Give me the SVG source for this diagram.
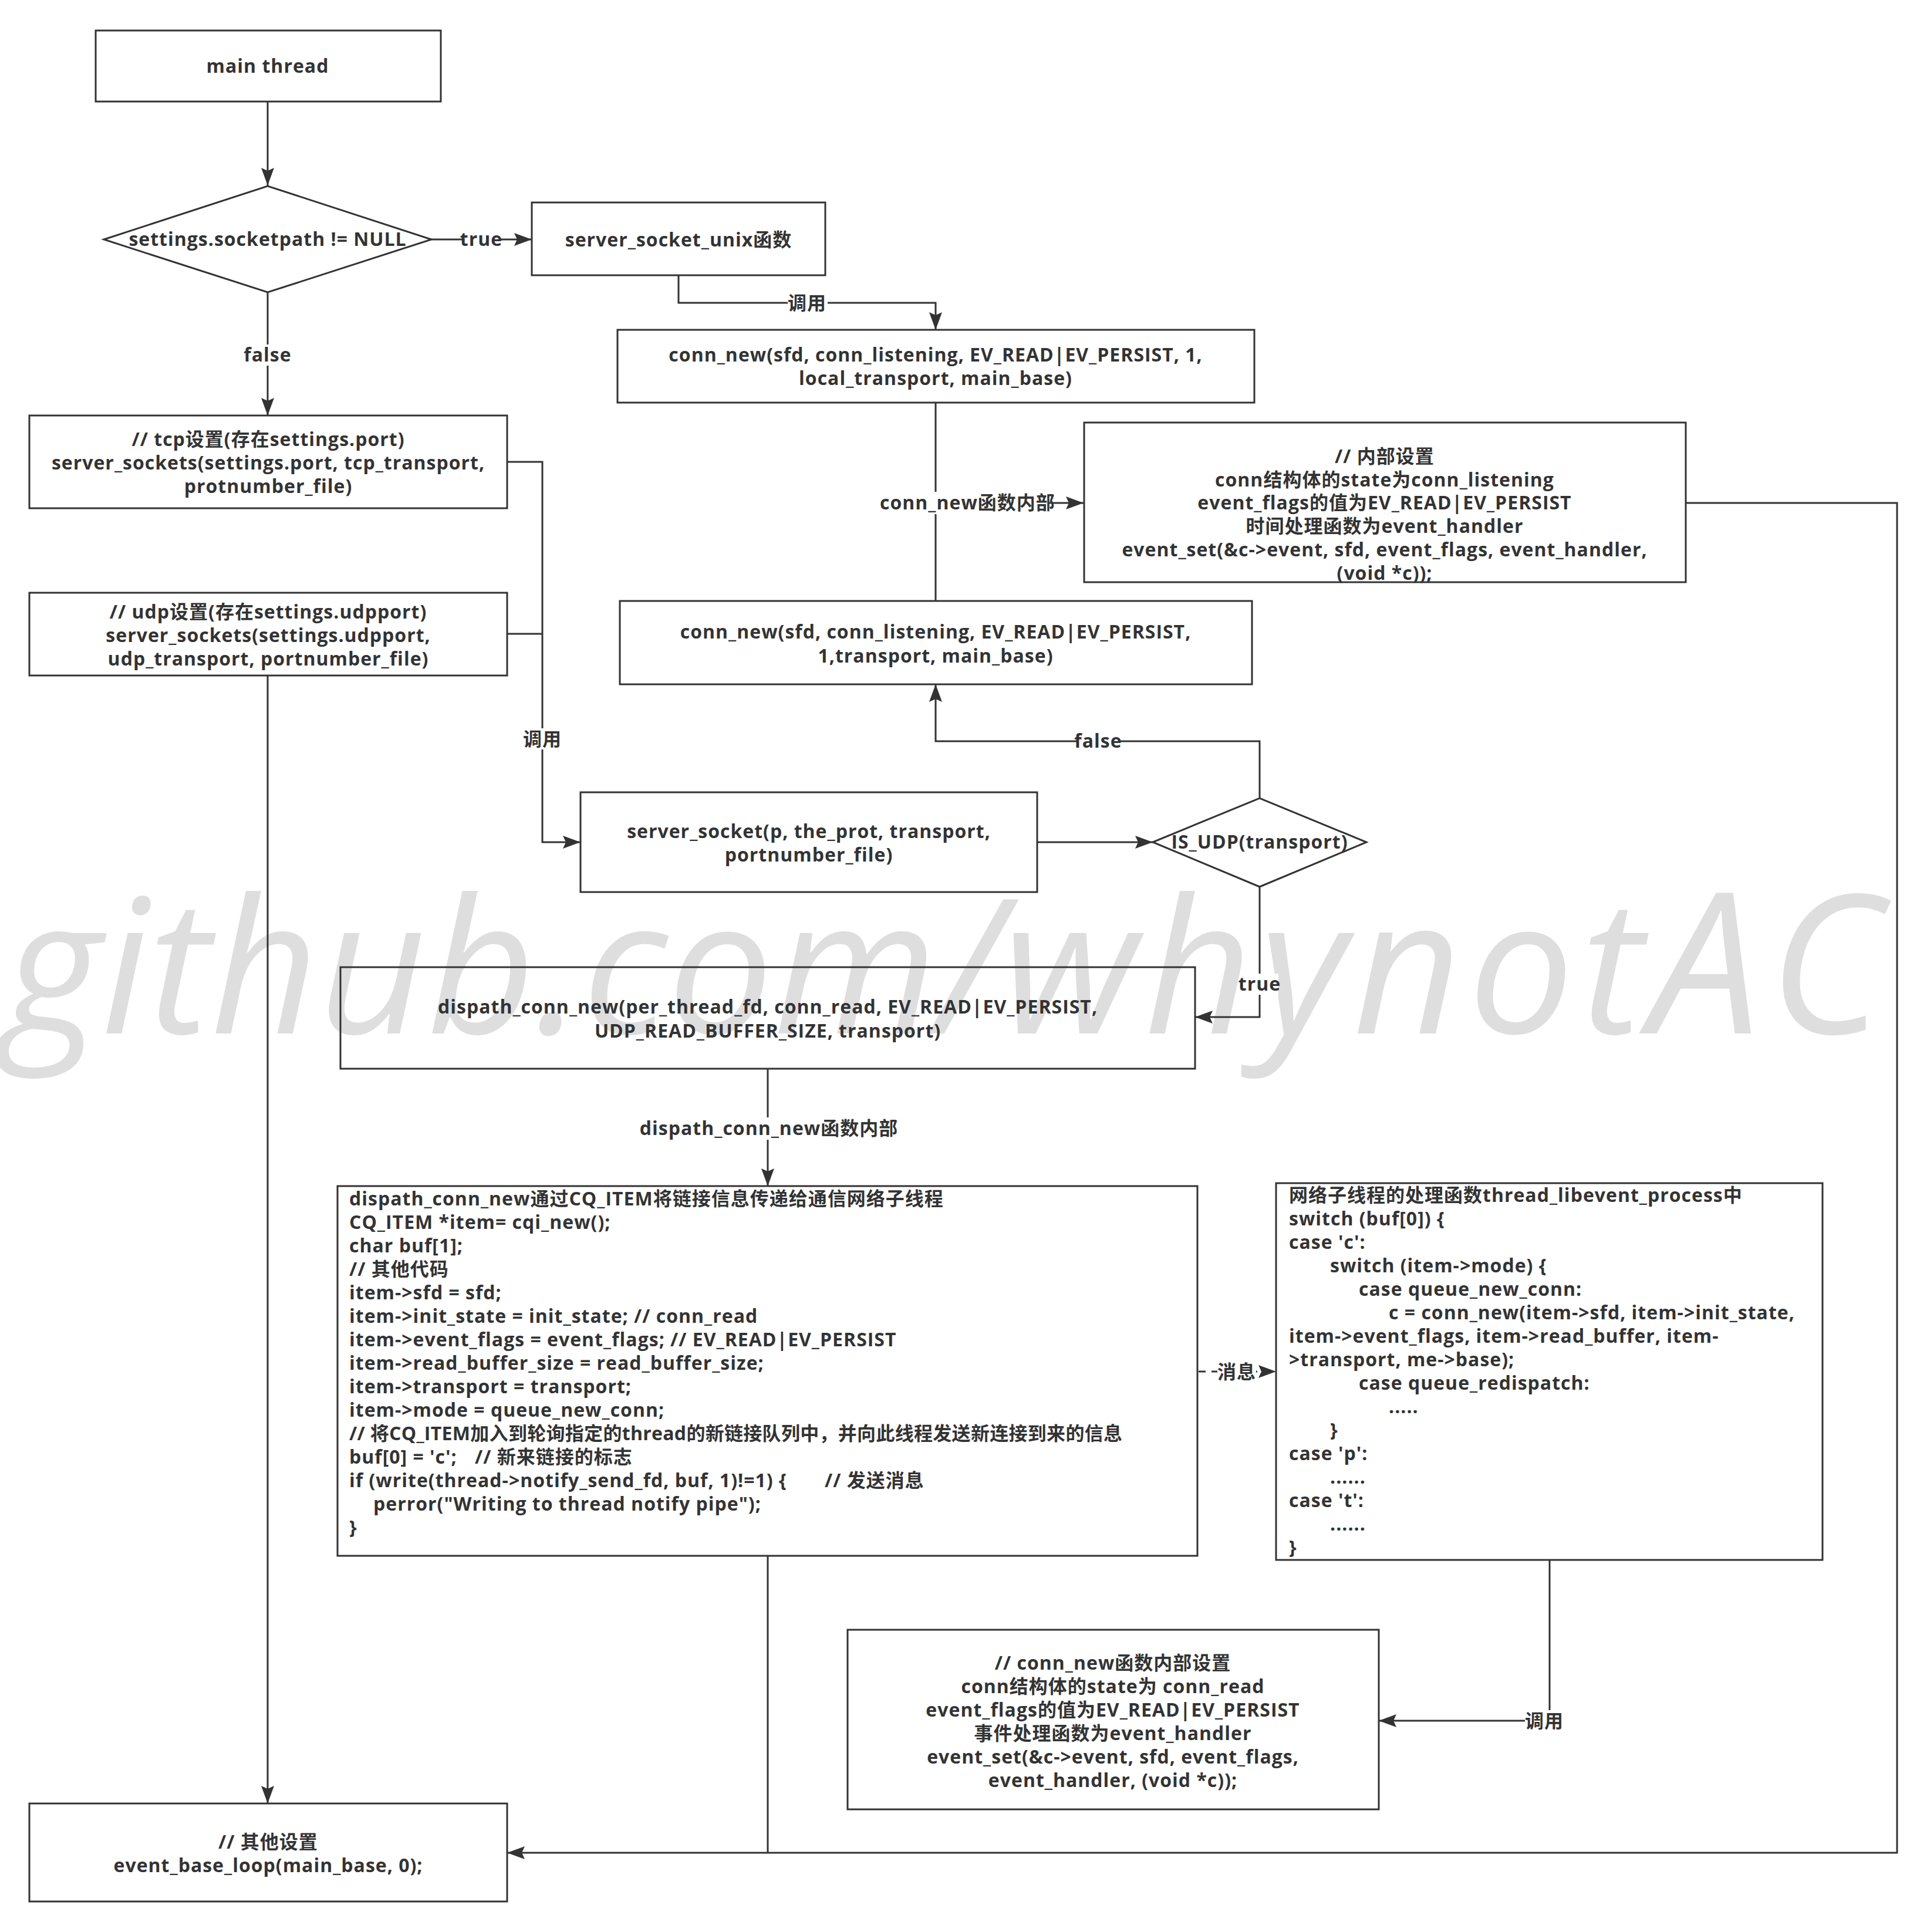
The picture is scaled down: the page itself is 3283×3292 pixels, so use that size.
<svg xmlns="http://www.w3.org/2000/svg" width="3283" height="3292" viewBox="0 0 3283 3292">
<defs>
<style>
.b{fill:none;stroke:#333;stroke-width:3}
.c{fill:none;stroke:#333;stroke-width:3}
.d{stroke-dasharray:12 10}
.lb{fill:#fff;stroke:none}
text{font-family:"Open Sans","Noto Sans CJK SC",sans-serif;font-weight:700;font-size:32px;fill:#333;letter-spacing:1px}
.m{text-anchor:middle}
.wm{font-family:"Open Sans","Liberation Sans",sans-serif;font-style:italic;font-weight:400;font-size:320px;fill:#dedede;letter-spacing:0}
.ws{letter-spacing:12px}
</style>
<marker id="a" markerUnits="userSpaceOnUse" markerWidth="32" markerHeight="24" refX="30" refY="12" orient="auto">
<path d="M0,1 L30,12 L0,23 L5,12 Z" fill="#333"/>
</marker>
</defs>
<rect width="3283" height="3292" fill="#fff"/>
<text class="wm" x="6" y="1761">github.com/<tspan class="ws">whynot</tspan><tspan font-size="336">A</tspan><tspan dx="14" font-size="330">C</tspan></text>

<g id="connectors">
<path class="c" d="M456,174 V316" marker-end="url(#a)"/>
<path class="c" d="M735,408 H906" marker-end="url(#a)"/>
<path class="c" d="M456,498 V708" marker-end="url(#a)"/>
<path class="c" d="M1156,470 V516 H1594 V562" marker-end="url(#a)"/>
<path class="c" d="M1594,686 V1024"/>
<path class="c" d="M1594,857 H1846" marker-end="url(#a)"/>
<path class="c" d="M864,787 H924 V1435 H989" marker-end="url(#a)"/>
<path class="c" d="M864,1080 H924"/>
<path class="c" d="M1767,1435 H1964" marker-end="url(#a)"/>
<path class="c" d="M2146,1360 V1263 H1594 V1166" marker-end="url(#a)"/>
<path class="c" d="M2146,1511 V1733 H2036" marker-end="url(#a)"/>
<path class="c" d="M1308,1821 V2021" marker-end="url(#a)"/>
<path class="c d" d="M2042,2337 H2174" marker-end="url(#a)"/>
<path class="c" d="M2640,2658 V2932 H2349" marker-end="url(#a)"/>
<path class="c" d="M456,1151 V3073" marker-end="url(#a)"/>
<path class="c" d="M2872,857 H3232 V3157 H864" marker-end="url(#a)"/>
<path class="c" d="M1308,2651 V3157"/>
<rect class="lb" x="790" y="390" width="60" height="36"/>
<text class="m" x="820" y="419">true</text>
<rect class="lb" x="420" y="587" width="74" height="36"/>
<text class="m" x="456" y="616">false</text>
<rect class="lb" x="1342" y="498" width="68" height="36"/>
<text class="m" x="1375" y="528">调用</text>
<rect class="lb" x="1496" y="838" width="290" height="38"/>
<text x="1499" y="868">conn_new函数内部</text>
<rect class="lb" x="1835" y="1245" width="74" height="36"/>
<text class="m" x="1871" y="1274">false</text>
<rect class="lb" x="890" y="1241" width="68" height="36"/>
<text class="m" x="924" y="1271">调用</text>
<rect class="lb" x="2114" y="1659" width="64" height="36"/>
<text class="m" x="2146" y="1688">true</text>
<rect class="lb" x="1094" y="1904" width="430" height="38"/>
<text class="m" x="1310" y="1934">dispath_conn_new函数内部</text>
<rect class="lb" x="2074" y="2319" width="66" height="36"/>
<text class="m" x="2107" y="2349">消息</text>
<rect class="lb" x="2598" y="2914" width="66" height="36"/>
<text class="m" x="2631" y="2944">调用</text>
</g>

<g id="main-thread">
<rect class="b" x="163" y="52" width="588" height="121"/>
<text class="m" x="456" y="124">main thread</text>
</g>

<g id="socketpath-decision">
<path class="b" d="M177,408 L456,317 L735,408 L456,498 Z"/>
<text class="m" x="456" y="419">settings.socketpath != NULL</text>
</g>

<g id="server-socket-unix">
<rect class="b" x="906" y="345" width="500" height="124"/>
<text class="m" x="1156" y="420">server_socket_unix函数</text>
</g>

<g id="conn-new-unix">
<rect class="b" x="1052" y="562" width="1085" height="124"/>
<text class="m" x="1594" y="616">conn_new(sfd, conn_listening, EV_READ|EV_PERSIST, 1,</text>
<text class="m" x="1594" y="656">local_transport, main_base)</text>
</g>

<g id="conn-new-internal-listening">
<rect class="b" x="1847" y="720" width="1025" height="272"/>
<text class="m" x="2359" y="789">// 内部设置</text>
<text class="m" x="2359" y="829">conn结构体的state为conn_listening</text>
<text class="m" x="2359" y="868">event_flags的值为EV_READ|EV_PERSIST</text>
<text class="m" x="2359" y="908">时间处理函数为event_handler</text>
<text class="m" x="2359" y="948">event_set(&amp;c-&gt;event, sfd, event_flags, event_handler,</text>
<text class="m" x="2359" y="988">(void *c));</text>
</g>

<g id="tcp-setup">
<rect class="b" x="50" y="708" width="814" height="158"/>
<text class="m" x="457" y="760">// tcp设置(存在settings.port)</text>
<text class="m" x="457" y="800">server_sockets(settings.port, tcp_transport,</text>
<text class="m" x="457" y="840">protnumber_file)</text>
</g>

<g id="udp-setup">
<rect class="b" x="50" y="1010" width="814" height="141"/>
<text class="m" x="457" y="1054">// udp设置(存在settings.udpport)</text>
<text class="m" x="457" y="1094">server_sockets(settings.udpport,</text>
<text class="m" x="457" y="1134">udp_transport, portnumber_file)</text>
</g>

<g id="conn-new-tcp">
<rect class="b" x="1056" y="1024" width="1077" height="142"/>
<text class="m" x="1594" y="1088">conn_new(sfd, conn_listening, EV_READ|EV_PERSIST,</text>
<text class="m" x="1594" y="1129">1,transport, main_base)</text>
</g>

<g id="server-socket">
<rect class="b" x="989" y="1350" width="778" height="170"/>
<text class="m" x="1378" y="1428">server_socket(p, the_prot, transport,</text>
<text class="m" x="1378" y="1468">portnumber_file)</text>
</g>

<g id="is-udp-decision">
<path class="b" d="M1964,1435 L2146,1360 L2328,1435 L2146,1511 Z"/>
<text class="m" x="2146" y="1446">IS_UDP(transport)</text>
</g>

<g id="dispatch-conn-new">
<rect class="b" x="580" y="1648" width="1456" height="173"/>
<text class="m" x="1308" y="1727">dispath_conn_new(per_thread_fd, conn_read, EV_READ|EV_PERSIST,</text>
<text class="m" x="1308" y="1768">UDP_READ_BUFFER_SIZE, transport)</text>
</g>

<g id="dispatch-code">
<rect class="b" x="575" y="2021" width="1465" height="630"/>
<text x="595" y="2054">dispath_conn_new通过CQ_ITEM将链接信息传递给通信网络子线程</text>
<text x="595" y="2094">CQ_ITEM *item= cqi_new();</text>
<text x="595" y="2134">char buf[1];</text>
<text x="595" y="2174">// 其他代码</text>
<text x="595" y="2214">item-&gt;sfd = sfd;</text>
<text x="595" y="2254">item-&gt;init_state = init_state; // conn_read</text>
<text x="595" y="2294">item-&gt;event_flags = event_flags; // EV_READ|EV_PERSIST</text>
<text x="595" y="2334">item-&gt;read_buffer_size = read_buffer_size;</text>
<text x="595" y="2374">item-&gt;transport = transport;</text>
<text x="595" y="2414">item-&gt;mode = queue_new_conn;</text>
<text x="595" y="2454" style="letter-spacing:0.3px">// 将CQ_ITEM加入到轮询指定的thread的新链接队列中，并向此线程发送新连接到来的信息</text>
<text x="595" y="2494">buf[0] = 'c'; <tspan x="809">// 新来链接的标志</tspan></text>
<text x="595" y="2534">if (write(thread-&gt;notify_send_fd, buf, 1)!=1) { <tspan x="1405">// 发送消息</tspan></text>
<text x="636" y="2574">perror("Writing to thread notify pipe");</text>
<text x="595" y="2614">}</text>
</g>

<g id="thread-libevent-process">
<rect class="b" x="2174" y="2016" width="931" height="642"/>
<text x="2196" y="2048">网络子线程的处理函数thread_libevent_process中</text>
<text x="2196" y="2088">switch (buf[0]) {</text>
<text x="2196" y="2128">case 'c':</text>
<text x="2266" y="2168">switch (item-&gt;mode) {</text>
<text x="2315" y="2208">case queue_new_conn:</text>
<text x="2366" y="2248">c = conn_new(item-&gt;sfd, item-&gt;init_state,</text>
<text x="2196" y="2288">item-&gt;event_flags, item-&gt;read_buffer, item-</text>
<text x="2196" y="2328">&gt;transport, me-&gt;base);</text>
<text x="2315" y="2368">case queue_redispatch:</text>
<text x="2366" y="2408">.....</text>
<text x="2266" y="2448">}</text>
<text x="2196" y="2488">case 'p':</text>
<text x="2266" y="2528">......</text>
<text x="2196" y="2568">case 't':</text>
<text x="2266" y="2608">......</text>
<text x="2196" y="2648">}</text>
</g>

<g id="conn-new-internal-read">
<rect class="b" x="1444" y="2777" width="905" height="306"/>
<text class="m" x="1896" y="2845">// conn_new函数内部设置</text>
<text class="m" x="1896" y="2885">conn结构体的state为 conn_read</text>
<text class="m" x="1896" y="2925">event_flags的值为EV_READ|EV_PERSIST</text>
<text class="m" x="1896" y="2965">事件处理函数为event_handler</text>
<text class="m" x="1896" y="3005">event_set(&amp;c-&gt;event, sfd, event_flags,</text>
<text class="m" x="1896" y="3045">event_handler, (void *c));</text>
</g>

<g id="event-base-loop">
<rect class="b" x="50" y="3073" width="814" height="167"/>
<text class="m" x="457" y="3150">// 其他设置</text>
<text class="m" x="457" y="3190">event_base_loop(main_base, 0);</text>
</g>
</svg>
